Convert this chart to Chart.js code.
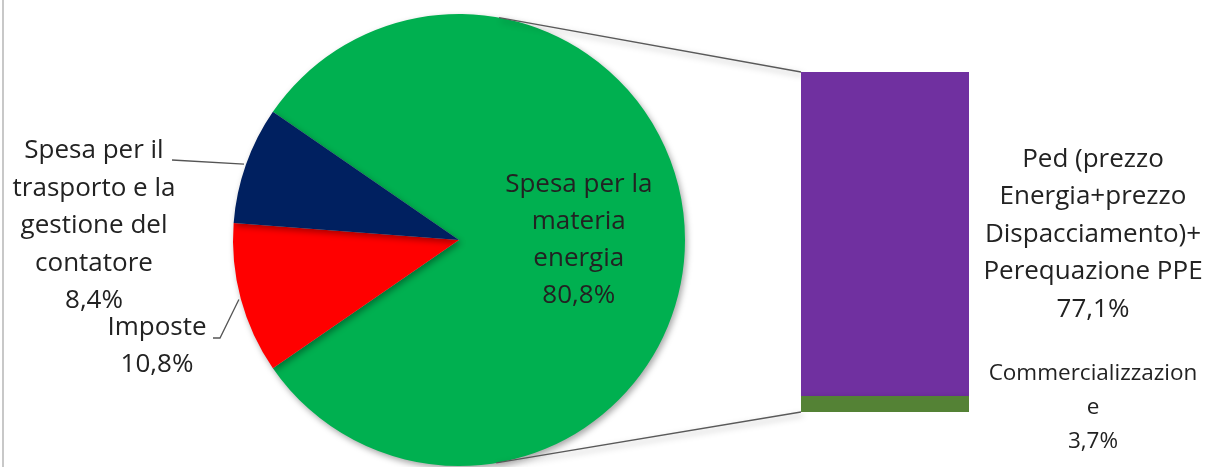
<!DOCTYPE html>
<html>
<head>
<meta charset="utf-8">
<script src="https://cdn.jsdelivr.net/npm/chart.js@4"></script>
<style>
  html, body { margin: 0; padding: 0; background: #fff; }
  #wrap { position: relative; width: 1207px; height: 467px; overflow: hidden; }
  #wrap canvas { position: absolute; left: 0; top: 0; }
  #edge { position: absolute; left: 2px; top: 0; width: 2px; height: 467px; background: #c8c8c8; }
</style>
</head>
<body>
<div id="wrap">
  <div id="edge"></div>
  <canvas id="pieChart" width="1207" height="467"></canvas>
  <canvas id="barChart" width="1207" height="467"></canvas>
</div>
<script>
// pie: first slice is the one split out into the bar
const pieLabels = [
  ['Spesa per la', 'materia', 'energia'],
  ['Imposte'],
  ['Spesa per il', 'trasporto e la', 'gestione del', 'contatore']
];
const pieValues = [80.8, 10.8, 8.4];
const pieColors = ['#00B050', '#FF0000', '#002060'];

// bar: breakdown of the first slice (bottom to top)
const barLabels = [
  ['Commercializzazion', 'e'],
  ['Ped (prezzo', 'Energia+prezzo', 'Dispacciamento)+', 'Perequazione PPE']
];
const barValues = [3.7, 77.1];
const barColors = ['#548235', '#7030A0'];

const FONT = '"Open Sans", "Noto Sans", sans-serif';
const TEXT = '#222';

const pct = v => v.toFixed(1).replace('.', ',') + '%';

function drawBlock(ctx, lines, x, y, size, lh) {
  ctx.save();
  ctx.font = size + 'px ' + FONT;
  ctx.fillStyle = TEXT;
  ctx.textAlign = 'center';
  ctx.textBaseline = 'middle';
  const top = y - (lines.length - 1) * lh / 2;
  lines.forEach((l, i) => ctx.fillText(l, x, top + i * lh));
  ctx.restore();
}

const shadowPlugin = {
  id: 'shadow',
  beforeDatasetsDraw(chart) {
    const ctx = chart.ctx;
    ctx.save();
    ctx.shadowColor = 'rgba(0,0,0,0.35)';
    ctx.shadowBlur = 6;
    ctx.shadowOffsetX = 2;
    ctx.shadowOffsetY = 3;
  },
  afterDatasetsDraw(chart) {
    chart.ctx.restore();
  }
};

const pieLabelPlugin = {
  id: 'pieLabels',
  afterDraw(chart) {
    const ctx = chart.ctx;
    const arcs = chart.getDatasetMeta(0).data;
    // big slice: label inside
    const a0 = arcs[0];
    const mid = (a0.startAngle + a0.endAngle) / 2;
    const rr = a0.outerRadius * 0.53;
    drawBlock(ctx, pieLabels[0].concat(pct(pieValues[0])), a0.x + Math.cos(mid) * rr, a0.y + Math.sin(mid) * rr, 26, 37);

    // small slices: labels outside with leader lines
    drawBlock(ctx, pieLabels[2].concat(pct(pieValues[2])), 94, 226, 26, 37.5);
    drawBlock(ctx, pieLabels[1].concat(pct(pieValues[1])), 157, 346, 26, 37);

    const edge = arc => {
      const ang = (arc.startAngle + arc.endAngle) / 2;
      const r = arc.outerRadius + 2;
      return [arc.x + Math.cos(ang) * r, arc.y + Math.sin(ang) * r];
    };
    ctx.save();
    ctx.strokeStyle = '#555';
    ctx.lineWidth = 1.3;
    const p2 = edge(arcs[2]);
    ctx.beginPath();
    ctx.moveTo(172, 160);
    ctx.lineTo(p2[0], p2[1]);
    ctx.stroke();
    const p1 = edge(arcs[1]);
    ctx.beginPath();
    ctx.moveTo(213, 338);
    ctx.lineTo(220, 338);
    ctx.lineTo(p1[0], p1[1]);
    ctx.stroke();
    ctx.restore();
  }
};

const pieChart = new Chart(document.getElementById('pieChart'), {
  type: 'pie',
  data: {
    labels: pieLabels.map(l => l.join(' ')),
    datasets: [{
      data: pieValues,
      backgroundColor: pieColors,
      borderWidth: 0
    }]
  },
  options: {
    responsive: false,
    animation: false,
    rotation: 90 - pieValues[0] / 100 * 180,
    layout: { padding: { left: 233, right: 522, top: 14, bottom: 1 } },
    plugins: { legend: { display: false }, tooltip: { enabled: false } }
  },
  plugins: [shadowPlugin, pieLabelPlugin]
});

// tangent lines from the bar corners to the pie, then bar labels
const barExtras = {
  id: 'barExtras',
  beforeDatasetsDraw(chart) {
    const arc = pieChart.getDatasetMeta(0).data[0];
    const bars = chart.getDatasetMeta(0).data[0];
    const topBar = chart.getDatasetMeta(barValues.length - 1).data[0];
    const left = bars.x - bars.width / 2;
    const corners = [[left, topBar.y, -1], [left, bars.base, 1]];
    const ctx = chart.ctx;
    ctx.save();
    ctx.strokeStyle = '#595959';
    ctx.lineWidth = 1.3;
    corners.forEach(([px, py, s]) => {
      const dx = px - arc.x, dy = py - arc.y;
      const d = Math.hypot(dx, dy);
      const th = Math.atan2(dy, dx);
      const al = Math.acos(arc.outerRadius / d);
      const t = th + s * al;
      ctx.beginPath();
      ctx.moveTo(arc.x + Math.cos(t) * arc.outerRadius, arc.y + Math.sin(t) * arc.outerRadius);
      ctx.lineTo(px, py);
      ctx.stroke();
    });
    ctx.restore();
  },
  afterDraw(chart) {
    const ctx = chart.ctx;
    barValues.forEach((v, i) => {
      const el = chart.getDatasetMeta(i).data[0];
      const x = el.x + el.width / 2 + 124;
      const y = (el.y + el.base) / 2;
      if (i === 0) {
        drawBlock(ctx, barLabels[i].concat(pct(v)), x, y + 3, 22.5, 34);
      } else {
        drawBlock(ctx, barLabels[i].concat(pct(v)), x, y, 26, 37.5);
      }
    });
  }
};

new Chart(document.getElementById('barChart'), {
  type: 'bar',
  data: {
    labels: [''],
    datasets: barValues.map((v, i) => ({
      label: barLabels[i].join(''),
      data: [v],
      backgroundColor: barColors[i],
      borderWidth: 0,
      categoryPercentage: 1,
      barPercentage: 1
    }))
  },
  options: {
    responsive: false,
    animation: false,
    layout: { padding: { left: 801, right: 238, top: 72, bottom: 55 } },
    scales: {
      x: { stacked: true, display: false },
      y: { stacked: true, display: false, min: 0, max: barValues.reduce((a, b) => a + b, 0) }
    },
    plugins: { legend: { display: false }, tooltip: { enabled: false } }
  },
  plugins: [shadowPlugin, barExtras]
});
</script>
</body>
</html>
